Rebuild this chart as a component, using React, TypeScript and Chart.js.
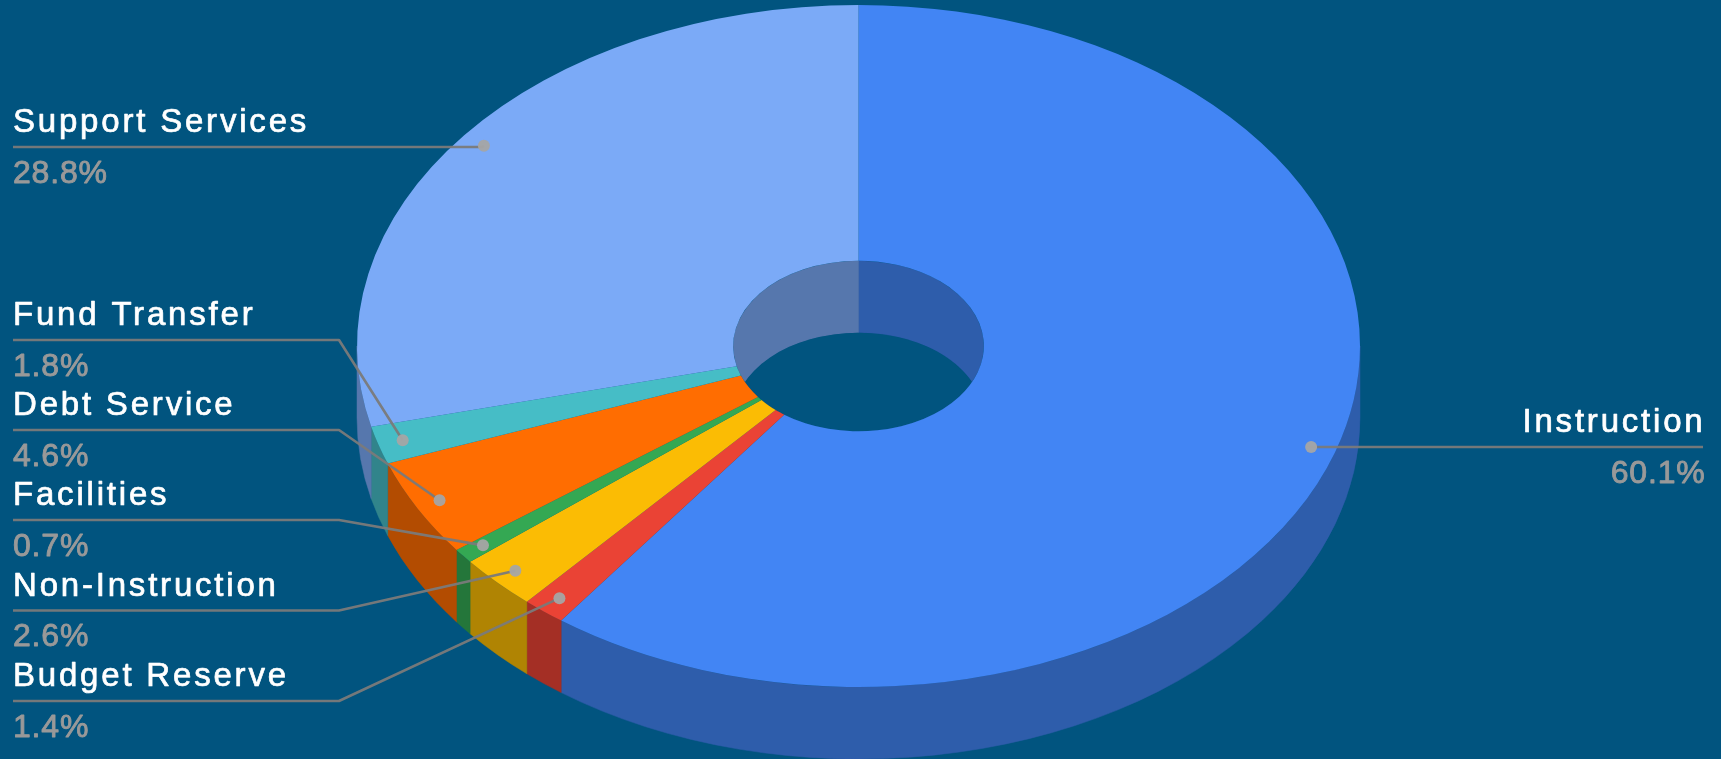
import React, { useEffect, useRef } from "react";
import { Chart, registerables } from "chart.js";

Chart.register(...registerables);

const categories = ["Instruction", "Budget Reserve", "Non-Instruction", "Facilities", "Debt Service", "Fund Transfer", "Support Services"];
const shares = [60.1, 1.4, 2.6, 0.7, 4.6, 1.8, 28.8];
const sliceColors = ["#4285f4", "#ea4335", "#fbbc04", "#34a853", "#ff6d01", "#46bdc6", "#7baaf7"];

// label layout, in category order: y of the leader's horizontal run, and where it bends
const labelLineY = [447, 701, 610.5, 520, 430, 340, 147];
const labelElbowX = [1311, 339, 339, 339, 339, 339, 482];
const labelOnRight = [true, false, false, false, false, false, false];

const BG = "#01547f";
const W = 1721, H = 759;
const CX = 858.5, CY = 346, RX = 501.5, RY = 341, DEPTH = 72;
const TEXT_LEFT = 13, TEXT_RIGHT = 1703;
const FONT = '"Liberation Sans", Arial, sans-serif';

function dark(hex: string) {
  const n = parseInt(hex.slice(1), 16);
  const f = 0.7;
  return `rgb(${Math.round((n >> 16) * f)},${Math.round(((n >> 8) & 255) * f)},${Math.round((n & 255) * f)})`;
}

function wall(ctx: CanvasRenderingContext2D, rx: number, ry: number, a0: number, a1: number, color: string) {
  ctx.beginPath();
  ctx.ellipse(CX, CY, rx, ry, 0, a0, a1, false);
  ctx.ellipse(CX, CY + DEPTH, rx, ry, 0, a1, a0, true);
  ctx.closePath();
  ctx.fillStyle = color;
  ctx.strokeStyle = color;
  ctx.lineWidth = 0.5;
  ctx.fill();
  ctx.stroke();
}

function boldText(ctx: CanvasRenderingContext2D, s: string, x: number, y: number, color: string, stroke: number) {
  ctx.fillStyle = color;
  ctx.strokeStyle = color;
  ctx.lineWidth = stroke;
  ctx.lineJoin = "round";
  ctx.strokeText(s, x, y);
  ctx.fillText(s, x, y);
}

const pie3d = {
  id: "pie3d",
  beforeDatasetsDraw(chart: any) {
    const ctx: CanvasRenderingContext2D = chart.ctx;
    const arcs = chart.getDatasetMeta(0).data;
    const hole = arcs[0].innerRadius / arcs[0].outerRadius;
    const hx = RX * hole, hy = RY * hole;

    // outer side wall: only the front half shows
    arcs.forEach((el: any, i: number) => {
      const a0 = Math.max(el.startAngle, 0), a1 = Math.min(el.endAngle, Math.PI);
      if (a1 > a0) wall(ctx, RX, RY, a0, a1, dark(sliceColors[i]));
    });

    // inner wall seen through the hole, then the background below it
    ctx.save();
    ctx.beginPath();
    ctx.ellipse(CX, CY, hx, hy, 0, 0, Math.PI * 2);
    ctx.clip();
    arcs.forEach((el: any, i: number) => {
      const a0 = Math.max(el.startAngle, -Math.PI), a1 = Math.min(el.endAngle, Math.PI * 1.5);
      if (a1 > a0) wall(ctx, hx, hy, a0, a1, dark(sliceColors[i]));
    });
    ctx.beginPath();
    ctx.ellipse(CX, CY + DEPTH, hx, hy, 0, 0, Math.PI * 2);
    ctx.fillStyle = BG;
    ctx.fill();
    ctx.restore();

    // squash the library's circular arcs into the tilted top face
    const el = arcs[0];
    ctx.save();
    ctx.translate(CX, CY);
    ctx.scale(RX / el.outerRadius, RY / el.outerRadius);
    ctx.translate(-el.x, -el.y);
  },
  afterDatasetsDraw(chart: any) {
    const ctx: CanvasRenderingContext2D = chart.ctx;
    ctx.restore();
    const arcs = chart.getDatasetMeta(0).data;
    const anyCtx = ctx as any;

    arcs.forEach((el: any, i: number) => {
      const mid = (el.startAngle + el.endAngle) / 2;
      const dx = CX + Math.cos(mid) * RX * 0.95;
      const dy = CY + Math.sin(mid) * RY * 0.95;
      const right = labelOnRight[i];
      const y = labelLineY[i];

      ctx.beginPath();
      ctx.moveTo(right ? TEXT_RIGHT : TEXT_LEFT, y);
      ctx.lineTo(labelElbowX[i], y);
      ctx.lineTo(dx, dy);
      ctx.strokeStyle = "rgba(122,122,122,0.95)";
      ctx.lineWidth = 2.6;
      ctx.stroke();

      ctx.beginPath();
      ctx.arc(dx, dy, 6, 0, Math.PI * 2);
      ctx.fillStyle = "rgba(165,165,165,0.95)";
      ctx.fill();

      ctx.textAlign = right ? "right" : "left";
      ctx.textBaseline = "alphabetic";
      const tx = right ? TEXT_RIGHT + 2.5 : TEXT_LEFT;
      ctx.font = `33px ${FONT}`;
      anyCtx.letterSpacing = "2.8px";
      boldText(ctx, categories[i], tx, y - 15, "#ffffff", 0.7);
      ctx.font = `32px ${FONT}`;
      anyCtx.letterSpacing = "0.8px";
      boldText(ctx, shares[i].toFixed(1) + "%", tx, y + 35.5, "#999999", 0.9);
      anyCtx.letterSpacing = "0px";
    });
  },
};

export default function App() {
  const ref = useRef<HTMLCanvasElement>(null);
  useEffect(() => {
    document.body.style.margin = "0";
    document.body.style.background = BG;
    const chart = new Chart(ref.current!, {
      type: "doughnut",
      data: {
        labels: categories,
        datasets: [{ data: shares, backgroundColor: sliceColors, borderWidth: 0, clip: false } as any],
      },
      options: {
        responsive: false,
        animation: false,
        cutout: "25%",
        rotation: 0,
        layout: { padding: 40 },
        plugins: { legend: { display: false }, tooltip: { enabled: false } },
      },
      plugins: [pie3d],
    } as any);
    return () => chart.destroy();
  }, []);
  return <canvas ref={ref} width={W} height={H} style={{ display: "block", width: W, height: H, background: BG, filter: "blur(0.5px)" }} />;
}
